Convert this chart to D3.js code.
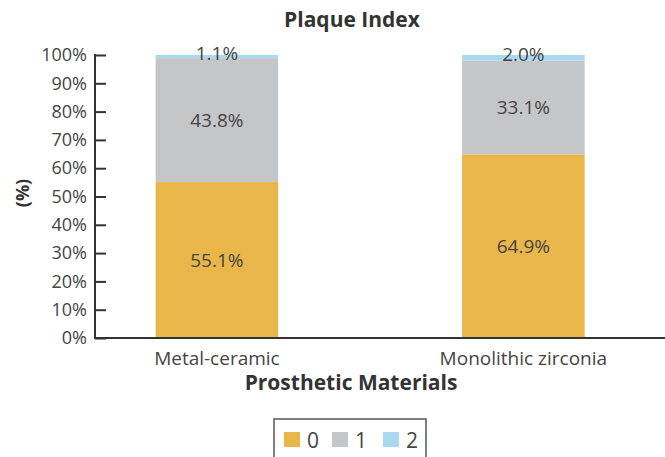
<!DOCTYPE html>
<html><head><meta charset="utf-8">
<script src="https://cdn.jsdelivr.net/npm/d3@7"></script>
<style>
body{margin:0;background:#fff;}
svg{display:block;font-family:"Open Sans",sans-serif;}
</style></head>
<body><svg id="c" width="665" height="457"></svg>
<script>
const categories = ["Metal-ceramic", "Monolithic zirconia"];
const seriesKeys = ["0", "1", "2"];
const score0 = [55.1, 64.9];
const score1 = [43.8, 33.1];
const score2 = [1.1, 2.0];
const yTicks = [0, 10, 20, 30, 40, 50, 60, 70, 80, 90, 100];
const colors = ["#E9B649", "#C5C6C8", "#A8D9F1"];
const title = "Plaque Index";
const xTitle = "Prosthetic Materials";
const yTitle = "(%)";

const rows = categories.map((c, i) => ({cat: c, "0": score0[i], "1": score1[i], "2": score2[i]}));
const svg = d3.select("#c");
const textColor = "#444";

const x = d3.scaleBand().domain(categories).range([95, 665]).paddingInner(0.6).paddingOuter(0.23).align(0.43);
const y = d3.scaleLinear().domain([0, 100]).range([338, 55]);
const color = d3.scaleOrdinal().domain(seriesKeys).range(colors);

const stack = d3.stack().keys(seriesKeys)(rows);

const g = svg.append("g");
const layers = g.selectAll("g.layer").data(stack).join("g").attr("fill", d => color(d.key));
layers.selectAll("rect").data(d => d).join("rect")
  .attr("x", d => x(d.data.cat))
  .attr("width", x.bandwidth())
  .attr("y", d => y(d[1]))
  .attr("height", d => y(d[0]) - y(d[1]));

// value labels
stack.forEach(layer => {
  g.selectAll(null).data(layer).join("text")
    .attr("x", d => x(d.data.cat) + x.bandwidth() / 2)
    .attr("y", d => (y(d[0]) + y(d[1])) / 2 - (layer.key === "2" ? 4 : 0))
    .attr("text-anchor", "middle").attr("dominant-baseline", "central")
    .attr("font-size", 19).attr("fill", textColor)
    .text(d => d3.format(".1f")(d[1] - d[0]) + "%");
});

// y axis
const yAxis = d3.axisLeft(y).tickValues(yTicks).tickFormat(d => d + "%").tickSize(0).tickPadding(8);
const ya = svg.append("g").attr("transform", "translate(95,0)").call(yAxis);
ya.select(".domain").remove();
ya.selectAll("text").attr("font-size", 18).attr("fill", textColor).attr("font-family", "Open Sans");
ya.selectAll(".tick line").remove();
ya.selectAll(".tick").append("line").attr("x1", 0).attr("x2", 11).attr("stroke", "#333").attr("stroke-width", 2);
svg.append("line").attr("x1", 95).attr("x2", 95).attr("y1", y(100) - 1).attr("y2", y(0)).attr("stroke", "#333").attr("stroke-width", 2);

// x axis
const xAxis = d3.axisBottom(x).tickSize(0).tickPadding(0);
const xa = svg.append("g").attr("transform", `translate(0,${y(0)})`).call(xAxis);
xa.select(".domain").remove();
xa.selectAll("text").attr("font-size", 19).attr("fill", textColor).attr("font-family", "Open Sans")
  .attr("dy", null).attr("y", 27);
svg.append("line").attr("x1", 94).attr("x2", 665).attr("y1", y(0)).attr("y2", y(0)).attr("stroke", "#333").attr("stroke-width", 2);

// titles
svg.append("text").attr("x", 352).attr("y", 27).attr("text-anchor", "middle")
  .attr("font-size", 21).attr("font-weight", "bold").attr("fill", "#333").text(title);
svg.append("text").attr("x", 351).attr("y", 390).attr("text-anchor", "middle")
  .attr("font-size", 21).attr("font-weight", "bold").attr("fill", "#333").text(xTitle);
svg.append("text").attr("transform", "translate(29,193) rotate(-90)").attr("text-anchor", "middle")
  .attr("font-size", 18).attr("font-weight", "bold").attr("fill", "#333").text(yTitle);

// legend
svg.append("rect").attr("x", 274).attr("y", 419).attr("width", 152).attr("height", 50)
  .attr("fill", "none").attr("stroke", "#555").attr("stroke-width", 1.5);
const lx = [284, 332, 383];
const leg = svg.selectAll("g.leg").data(seriesKeys).join("g").attr("transform", (d, i) => `translate(${lx[i]},432)`);
leg.append("rect").attr("width", 16).attr("height", 15).attr("fill", d => color(d));
leg.append("text").attr("x", 23).attr("y", 8).attr("dominant-baseline", "central")
  .attr("font-size", 21).attr("fill", textColor).text(d => d);
</script></body></html>
